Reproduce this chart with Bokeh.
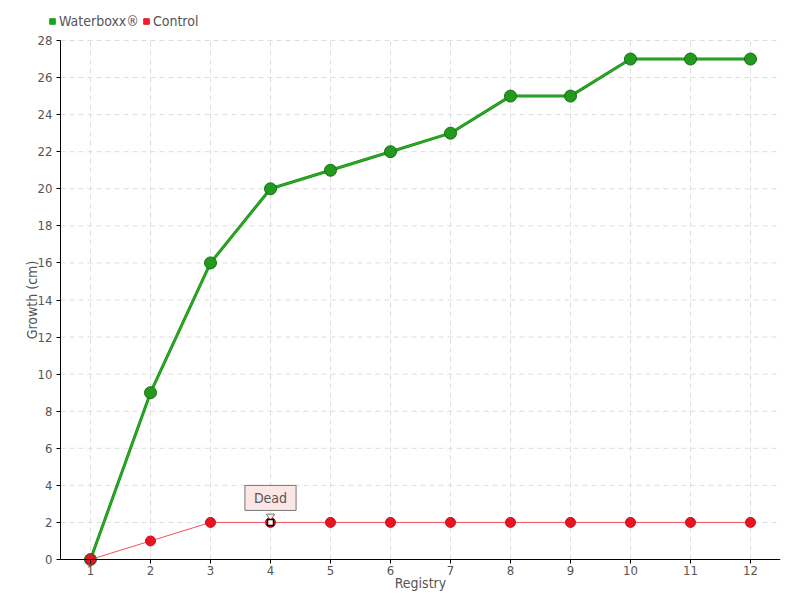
from bokeh.plotting import figure
from bokeh.models import Range1d, Legend, LegendItem, Label, FixedTicker
from bokeh.embed import file_html
from bokeh.resources import INLINE

registry = [1, 2, 3, 4, 5, 6, 7, 8, 9, 10, 11, 12]
waterboxx = [0, 9, 16, 20, 21, 22, 23, 25, 25, 27, 27, 27]
control = [0, 1, 2, 2, 2, 2, 2, 2, 2, 2, 2, 2]
y_ticks = list(range(0, 29, 2))
dead_index = 3
dead_text = "Dead"

FONT = "DejaVu Sans Condensed"
TXT = "#555555"
NAN = float("nan")

# layout geometry (pixels)
W, H = 800, 600
LEFT, RIGHT, BOTTOM = 0, 20, 0
X0, X1, Y0, Y1 = 0.5, 12.5, 0, 28
plot_left, plot_top, plot_bottom = 60, 40, 559
frame_h = H - BOTTOM
px_x = (W - RIGHT - plot_left) / (X1 - X0)
px_y = (plot_bottom - plot_top) / (Y1 - Y0)
x_start = X0 - (plot_left - LEFT) / px_x
y_end = Y1 + plot_top / px_y
y_start = Y0 - (frame_h - plot_bottom) / px_y

p = figure(width=W, height=H, output_backend="svg", toolbar_location=None,
           x_range=Range1d(x_start, X1), y_range=Range1d(y_start, y_end),
           min_border_left=LEFT, min_border_right=RIGHT, min_border_top=0,
           min_border_bottom=BOTTOM)
p.outline_line_color = None
p.background_fill_color = "white"
p.border_fill_color = "white"
p.xgrid.visible = False
p.ygrid.visible = False

for ax in (p.xaxis[0], p.yaxis[0]):
    ax.axis_line_color = "black"
    ax.major_tick_line_color = "black"
    ax.minor_tick_line_color = None
    ax.major_tick_in = 0
    ax.major_tick_out = 4
    ax.major_label_text_font = FONT
    ax.major_label_text_font_size = "13px"
    ax.major_label_text_color = TXT
    ax.axis_label_text_font = FONT
    ax.axis_label_text_font_size = "14px"
    ax.axis_label_text_color = TXT
    ax.axis_label_text_font_style = "normal"

p.xaxis.ticker = FixedTicker(ticks=registry)
p.yaxis.ticker = FixedTicker(ticks=y_ticks)
p.xaxis.axis_label = "Registry"
p.yaxis.axis_label = "Growth (cm)"
p.xaxis.bounds = (X0, X1)
p.yaxis.bounds = (Y0, Y1)
p.yaxis.fixed_location = X0
p.xaxis.fixed_location = Y0
p.xaxis.major_label_standoff = 2
p.xaxis.axis_label_standoff = -3
p.yaxis.major_label_standoff = 4
p.yaxis.axis_label_standoff = -5

# dashed grid limited to the plotting area
p.segment(x0=X0, x1=X1, y0=y_ticks, y1=y_ticks,
          line_color="#dddddd", line_dash="5 4", line_width=1)
p.segment(x0=registry, x1=registry, y0=Y0, y1=Y1,
          line_color="#dddddd", line_dash="5 4", line_width=1)

# Waterboxx
p.line(registry, waterboxx, line_color="#1f8f1a", line_width=3)
p.line(registry, waterboxx, line_color="#2aaa24", line_width=1.5)
p.scatter(registry, waterboxx, size=12, fill_color="#229a1e", line_color="#176e14", line_width=1)

# Control
p.line(registry, control, line_color="#f2505e", line_width=1)
p.scatter(registry, control, size=10, fill_color="#e8141f", line_color="#cc1020", line_width=1)

# callout pointer + marker
p.scatter([registry[dead_index]], [control[dead_index] + 6 / px_y], marker="inverted_triangle",
          size=8, fill_color="#fde6e6", line_color="#777777", line_width=1)
p.scatter([registry[dead_index]], [control[dead_index]], marker="square", size=6,
          fill_color="white", line_color="black", line_width=1.5)

# legend squares
lw = p.scatter([NAN], [NAN], marker="square", fill_color="#1da31a", line_color="#1da31a")
lc = p.scatter([NAN], [NAN], marker="square", fill_color="#ee1c2a", line_color="#ee1c2a")
legend = Legend(items=[LegendItem(label="Waterboxx®", renderers=[lw]),
                       LegendItem(label="Control", renderers=[lc])],
                location=(45 - LEFT, frame_h - 29), orientation="horizontal",
                glyph_width=14, glyph_height=14, label_height=14, label_standoff=0,
                spacing=0, padding=0, margin=0,
                border_line_color=None, background_fill_alpha=0,
                label_text_font=FONT, label_text_font_size="14px", label_text_color=TXT)
p.add_layout(legend, "center")

lab = Label(x=registry[dead_index], y=control[dead_index], text=dead_text,
            x_offset=0, y_offset=12, text_align="center", text_baseline="bottom",
            text_font=FONT, text_font_size="14px", text_color=TXT,
            background_fill_color="#fde6e6", border_line_color="#777777",
            padding=dict(left=9, right=9, top=5, bottom=4))
p.add_layout(lab)

open("out.html", "w").write(file_html(p, INLINE))
